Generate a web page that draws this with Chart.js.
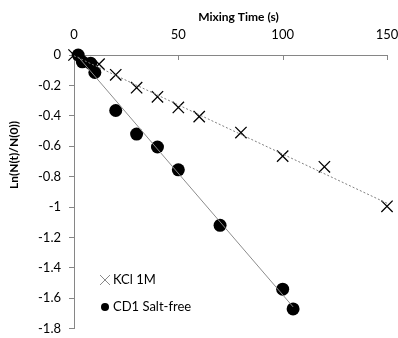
<!DOCTYPE html>
<html>
<head>
<meta charset="utf-8">
<script src="https://cdn.jsdelivr.net/npm/chart.js@4"></script>
<style>
  body { margin: 0; background: #fff; }
  #wrap { width: 398px; height: 338px; }
</style>
</head>
<body>
<div id="wrap"><canvas id="chart" width="398" height="338"></canvas></div>
<script>
  // values
  const kclTime = [0, 12, 20, 30, 40, 50, 60, 80, 100, 120, 150];
  const kclLn = [0, -0.06, -0.13, -0.215, -0.275, -0.345, -0.405, -0.51, -0.665, -0.735, -0.995];
  const cd1Time = [2, 4, 8, 10, 20, 30, 40, 50, 70, 100, 105];
  const cd1Ln = [0, -0.045, -0.055, -0.115, -0.365, -0.52, -0.605, -0.755, -1.12, -1.54, -1.67];

  const xTicks = [0, 50, 100, 150];
  const yTicks = [0, -0.2, -0.4, -0.6, -0.8, -1, -1.2, -1.4, -1.6, -1.8];

  const seriesNames = ['KCl 1M', 'CD1 Salt-free'];
  const axisTitles = { x: 'Mixing Time (s)', y: 'Ln(N(t)/N(0))' };

  const FONT = 'Lato, "Open Sans", sans-serif';
  const AXIS_GREY = '#868686';

  function pts(xs, ys) {
    return xs.map((x, i) => ({ x: x, y: ys[i] }));
  }

  // least-squares trendline over the data range (like the Excel linear trendline)
  function trend(xs, ys) {
    const n = xs.length;
    const mx = xs.reduce((a, b) => a + b, 0) / n;
    const my = ys.reduce((a, b) => a + b, 0) / n;
    let sxy = 0, sxx = 0;
    for (let i = 0; i < n; i++) {
      sxy += (xs[i] - mx) * (ys[i] - my);
      sxx += (xs[i] - mx) * (xs[i] - mx);
    }
    const m = sxy / sxx, b = my - m * mx;
    const lo = Math.min(...xs), hi = Math.max(...xs);
    return [{ x: lo, y: m * lo + b }, { x: hi, y: m * hi + b }];
  }

  // axis titles, inner x ticks and the legend box
  const extras = {
    id: 'extras',
    afterDraw(chart) {
      const ctx = chart.ctx;
      const xs = chart.scales.x;
      const area = chart.chartArea;
      ctx.save();

      // x ticks point down into the plot
      ctx.strokeStyle = AXIS_GREY;
      ctx.lineWidth = 1;
      xTicks.forEach(v => {
        if (v === 0) return;
        const px = Math.round(xs.getPixelForValue(v)) + 0.5;
        ctx.beginPath();
        ctx.moveTo(px, area.top);
        ctx.lineTo(px, area.top + 5);
        ctx.stroke();
      });

      ctx.fillStyle = '#000';
      ctx.font = 'bold 12px ' + FONT;
      ctx.textAlign = 'center';
      ctx.textBaseline = 'middle';
      ctx.fillText(axisTitles.x, (area.left + area.right) / 2 + 8, 17);

      ctx.save();
      ctx.translate(14, 155);
      ctx.rotate(-Math.PI / 2);
      ctx.fillText(axisTitles.y, 0, 0);
      ctx.restore();

      // legend
      const lx = 105, rows = [280, 307];
      ctx.font = '13px ' + FONT;
      ctx.textAlign = 'left';
      ctx.strokeStyle = '#8a8a8a';
      ctx.lineWidth = 1;
      ctx.beginPath();
      ctx.moveTo(lx - 5, rows[0] - 5); ctx.lineTo(lx + 5, rows[0] + 5);
      ctx.moveTo(lx - 5, rows[0] + 5); ctx.lineTo(lx + 5, rows[0] - 5);
      ctx.stroke();
      ctx.fillStyle = '#000';
      ctx.fillText(seriesNames[0], lx + 8, rows[0]);
      ctx.beginPath();
      ctx.arc(lx, rows[1], 4, 0, Math.PI * 2);
      ctx.fill();
      ctx.fillText(seriesNames[1], lx + 8, rows[1]);

      ctx.restore();
    }
  };

  new Chart(document.getElementById('chart'), {
    type: 'scatter',
    data: {
      datasets: [
        {
          label: seriesNames[0] + ' trend',
          data: trend(kclTime, kclLn),
          showLine: true,
          borderColor: '#7f7f7f',
          borderWidth: 1,
          borderDash: [2, 2],
          pointRadius: 0,
          fill: false
        },
        {
          label: seriesNames[1] + ' trend',
          data: trend(cd1Time, cd1Ln),
          showLine: true,
          borderColor: '#8c8c8c',
          borderWidth: 1,
          pointRadius: 0,
          fill: false
        },
        {
          label: seriesNames[0],
          data: pts(kclTime, kclLn),
          pointStyle: 'crossRot',
          pointRadius: 8,
          borderColor: '#000',
          borderWidth: 1.3,
          backgroundColor: '#000'
        },
        {
          label: seriesNames[1],
          data: pts(cd1Time, cd1Ln),
          pointStyle: 'circle',
          pointRadius: 6.5,
          borderWidth: 0,
          backgroundColor: '#000'
        }
      ]
    },
    options: {
      responsive: false,
      animation: false,
      clip: false,
      layout: { padding: { left: 0, right: 11, top: 0, bottom: 5 } },
      plugins: { legend: { display: false }, tooltip: { enabled: false } },
      scales: {
        x: {
          type: 'linear',
          position: 'top',
          min: 0,
          max: 150,
          afterBuildTicks: s => { s.ticks = xTicks.map(v => ({ value: v })); },
          afterFit: s => { s.height = 55; s.paddingLeft = 0; s.paddingRight = 0; },
          grid: { drawOnChartArea: false, drawTicks: false },
          border: { color: AXIS_GREY, width: 1 },
          ticks: { color: '#000', font: { family: FONT, size: 13 }, padding: 12, maxRotation: 0 }
        },
        y: {
          type: 'linear',
          min: -1.8,
          max: 0,
          afterBuildTicks: s => { s.ticks = yTicks.map(v => ({ value: v })); },
          afterFit: s => { s.width = 74; s.paddingTop = 0; s.paddingBottom = 0; },
          grid: { drawOnChartArea: false, tickLength: 5, color: AXIS_GREY },
          border: { color: AXIS_GREY, width: 1 },
          ticks: {
            color: '#000',
            font: { family: FONT, size: 13 },
            padding: 8,
            callback: v => String(parseFloat(v.toFixed(1)))
          }
        }
      }
    },
    plugins: [extras]
  });
</script>
</body>
</html>
